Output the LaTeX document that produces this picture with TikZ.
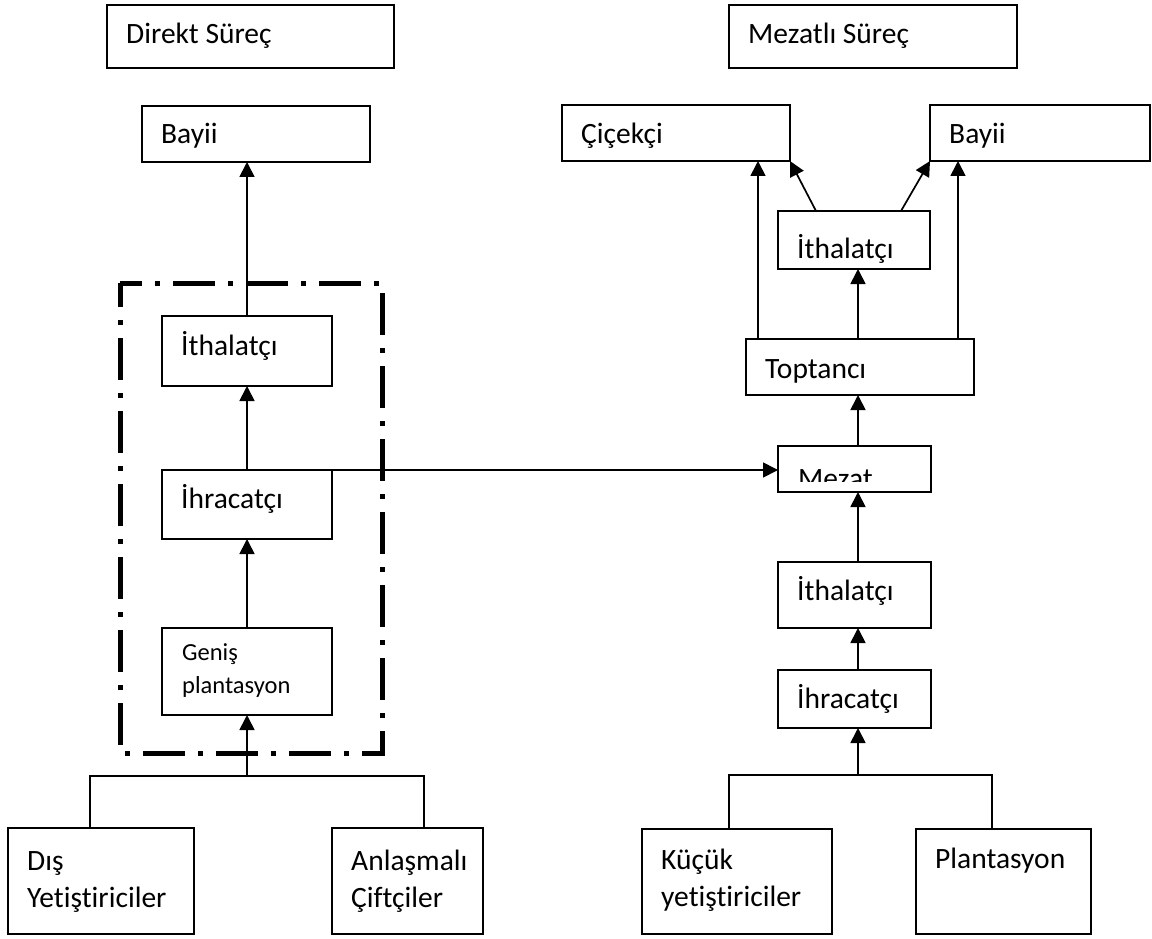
\documentclass[tikz,border=0pt]{standalone}
\usepackage{fontspec}
\setmainfont{Carlito}[Ligatures=NoCommon]
\usetikzlibrary{arrows.meta}
\tikzset{
  box/.style={draw, line width=1.7pt, outer sep=0pt, inner sep=0pt, rectangle},
  lbl/.style={anchor=base west, inner sep=0pt, font=\fontsize{29.5}{37}\selectfont},
  smalllbl/.style={anchor=base west, inner sep=0pt, font=\fontsize{24.5}{33}\selectfont},
  arr/.style={line width=1.7pt, -{Triangle[length=15pt,width=15pt]}},
  conn/.style={line width=1.7pt},
  dashbox/.style={line width=5pt, dash pattern=on 42pt off 13pt on 5pt off 13pt, dash phase=20pt}
}
\newcommand\bxx[7]{%
  \pgfmathsetmacro\bxW{#4-#2}\pgfmathsetmacro\bxH{#5-#3}%
  \pgfmathsetmacro\bxX{(#2+#4)/2}\pgfmathsetmacro\bxY{(#3+#5)/2}%
  \pgfmathsetmacro\bxT{#2+19}%
  \node[box, minimum width=\bxW pt, minimum height=\bxH pt] (#1) at (\bxX,\bxY) {};
  \node[lbl] (#1-t) at (\bxT,#6) {\begin{tabular}[t]{@{}l@{}}#7\end{tabular}};
}
\begin{document}
\begin{tikzpicture}[x=1pt,y=-1pt]
\fill[white] (0,0) rectangle (1152,939);
\useasboundingbox (0,0) rectangle (1152,939);

% titles
\bxx{dirS}{107}{5}{394}{68}{44}{Direkt Süreç}
\bxx{mezS}{729}{5}{1017}{68}{44}{Mezatlı Süreç}

% left column
\bxx{bayiiL}{142}{106}{370}{162}{144}{Bayii}
\draw[dashbox] (120,283) -- (382,283) -- (382,753) -- (120,753) -- cycle;
\bxx{ithL}{162}{316}{332}{386}{355}{İthalatçı}
\bxx{ihrL}{162}{470}{332}{539}{508}{İhracatçı}
\node[box, minimum width=170pt, minimum height=87pt] (genis) at (247,671.5) {};
\node[smalllbl] (genis-t) at (182,660) {\begin{tabular}[t]{@{}l@{}}Geniş\\plantasyon\end{tabular}};
\bxx{dis}{8}{828}{194}{934}{870}{Dış\\Yetiştiriciler}
\bxx{anl}{332}{828}{483}{934}{870}{Anlaşmalı\\Çiftçiler}
\coordinate (jL) at (247,776);

% right column
\bxx{cicek}{562}{105}{790}{161}{144}{Çiçekçi}
\bxx{bayiiR}{930}{105}{1150}{161}{144}{Bayii}
\bxx{ithR1}{778}{211}{930}{269}{258}{İthalatçı}
\bxx{topt}{746}{339}{974}{395}{378}{Toptancı}
\node[box, minimum width=153pt, minimum height=46pt] (mezat) at (854.5,469) {};
\begin{scope}
  \clip (mezat.north west) rectangle ([yshift=11pt]mezat.south east);
  \node[lbl] (mezat-t) at (798,488) {Mezat};
\end{scope}
\bxx{ithR2}{778}{562}{931}{628}{600}{İthalatçı}
\bxx{ihrR}{778}{670}{931}{728}{708}{İhracatçı}
\bxx{kucuk}{642}{829}{832}{934}{869}{Küçük\\yetiştiriciler}
\bxx{plant}{916}{829}{1091}{934}{868}{Plantasyon}
\coordinate (jR) at (858,775);

% left connectors
\draw[arr] (ithL.north) -- (ithL.north |- bayiiL.south);
\draw[arr] (ihrL.north) -- (ihrL.north |- ithL.south);
\draw[arr] (genis.north) -- (genis.north |- ihrL.south);
\draw[arr] (jL) -- (jL |- genis.south);
\draw[conn] ([xshift=82pt]dis.north west) |- (jL) -| ([xshift=92pt]anl.north west);
\draw[arr] (ihrL.north east) -- (ihrL.north east -| mezat.west);

% right connectors
\draw[arr] ([xshift=12pt]topt.north west) -- ([xshift=12pt]topt.north west |- cicek.south);
\draw[arr] ([xshift=-2pt]topt.north) -- ([xshift=-2pt]topt.north |- ithR1.south);
\draw[arr] ([xshift=-16pt]topt.north east) -- ([xshift=-16pt]topt.north east |- bayiiR.south);
\draw[arr] ([xshift=38pt]ithR1.north west) -- (cicek.south east);
\draw[arr] ([xshift=-29pt]ithR1.north east) -- (bayiiR.south west);
\draw[arr] ([xshift=3.5pt]mezat.north) -- ([xshift=3.5pt]mezat.north |- topt.south);
\draw[arr] ([xshift=3.5pt]ithR2.north) -- ([xshift=3.5pt]ithR2.north |- mezat.south);
\draw[arr] ([xshift=3.5pt]ihrR.north) -- ([xshift=3.5pt]ihrR.north |- ithR2.south);
\draw[arr] (jR) -- (jR |- ihrR.south);
\draw[conn] ([xshift=87pt]kucuk.north west) |- (jR) -| ([xshift=76pt]plant.north west);
\end{tikzpicture}
\end{document}
